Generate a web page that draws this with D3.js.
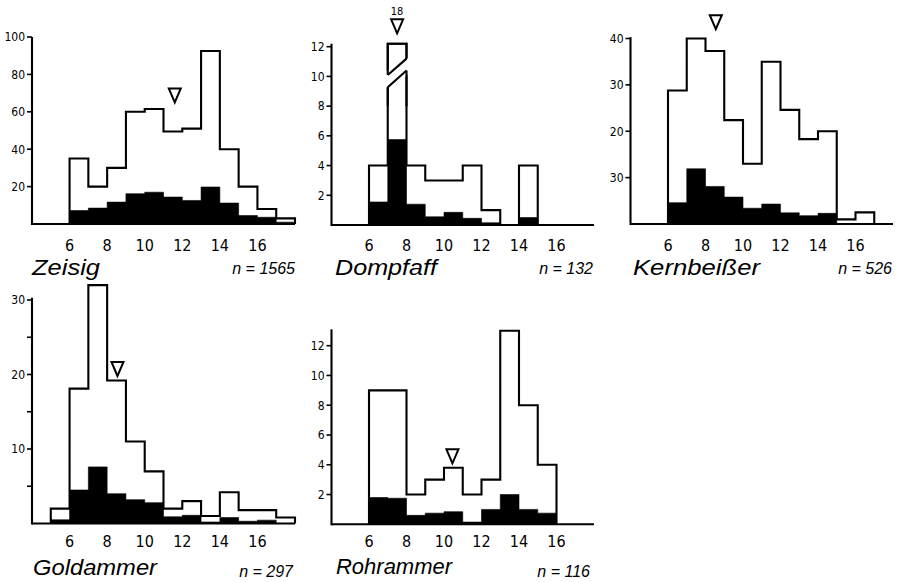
<!DOCTYPE html>
<html><head><meta charset="utf-8">
<script src="https://cdn.jsdelivr.net/npm/d3@7/dist/d3.min.js"></script>
<style>
html,body{margin:0;padding:0;background:#fff;}
svg{display:block;}
.tick-y{font-family:"DejaVu Sans Condensed","Liberation Sans Narrow","DejaVu Sans",sans-serif;font-size:12px;}
.tick-x{font-family:"DejaVu Sans Condensed","Liberation Sans Narrow","DejaVu Sans",sans-serif;font-size:16px;}
.title{font-family:"Liberation Sans","DejaVu Sans",sans-serif;font-style:italic;}
.nlab{font-family:"Liberation Sans","DejaVu Sans",sans-serif;font-style:italic;font-size:16px;}
</style></head>
<body>
<svg id="chart" width="900" height="582"></svg>
<script>
// ---- data ----
const binStarts = [5,6,7,8,9,10,11,12,13,14,15,16,17];
const xTickValues = [6,8,10,12,14,16];

const species = ["Zeisig","Dompfaff","Kernbeißer","Goldammer","Rohrammer"];
const nLabels = ["n = 1565","n = 132","n = 526","n = 297","n = 116"];

const zeisigTotal = [0,35,20,30,60,61.5,49.5,51,92.5,40,20,8,3];
const zeisigBlack = [0,7.2,8.5,11.7,16.2,17,14.4,12.6,19.8,11.2,4.5,3.6,1];
const dompfaffTotal = [0,4,18,4,3,3,4,1,0,4,0,0,0];
const dompfaffBlack = [0,1.55,5.75,1.4,0.55,0.85,0.45,0.15,0,0.5,0,0,0];
const kernTotal = [0,28.8,40,37.3,22.4,13,35,24.6,18.3,20,1,2.5,0];
const kernBlack = [0,4.6,11.9,8.1,5.8,3.4,4.3,2.4,1.8,2.3,0,0,0];
const goldTotal = [2,18.1,32,19.2,11,7,2,3,1,4.2,1.8,1.8,0.8];
const goldBlack = [0.5,4.5,7.6,4,3.2,2.8,0.9,1.1,0.2,0.8,0.3,0.45,0];
const rohrTotal = [0,9,9,2,3,3.8,2,3,13,8,4,0,0];
const rohrBlack = [0,1.8,1.75,0.6,0.75,0.85,0.15,1,2,1,0.75,0,0];

const meanValues = [11.6, 7.5, 8.55, 8.55, 10.45];
const markerTip = [65, 12.9, 42, 19.8, 4.1];

const zeisigYTicks = [20,40,60,80,100];
const zeisigYLabels = ["20","40","60","80","100"];
const dompfaffYTicks = [2,4,6,8,10,12];
const dompfaffYLabels = ["2","4","6","8","10","12"];
const kernYTicks = [10,20,30,40];
const kernYLabels = ["30","20","30","40"];
const goldYTicks = [5,10,15,20,25,30];
const goldYLabels = ["","10","","20","","30"];
const rohrYTicks = [2,4,6,8,10,12];
const rohrYLabels = ["2","4","6","8","10","12"];

const dompfaffBreakMark = "18";

// ---- layout ----
const panels = [
  {total:zeisigTotal, black:zeisigBlack, yTicks:zeisigYTicks, yLabels:zeisigYLabels,
   px0:32, px1:295, py0:224, yMax:100, pyMax:37, axisTop:100, titleX:32, titleY:275, titleW:68, titleSize:22, nX:295, nY:274, xLabY:251},
  {total:dompfaffTotal, black:dompfaffBlack, yTicks:dompfaffYTicks, yLabels:dompfaffYLabels,
   px0:331.5, px1:594, py0:225, yMax:12, pyMax:46.7, axisTop:12.2, titleX:335, titleY:275, titleW:102, titleSize:22, nX:593, nY:274, xLabY:251,
   cap:12.2, brk:{bin:7, upL:10.1, upR:11.2, loL:9.27, loR:10.4}},
  {total:kernTotal, black:kernBlack, yTicks:kernYTicks, yLabels:kernYLabels,
   px0:630.5, px1:893, py0:224, yMax:40, pyMax:38.5, axisTop:40.3, titleX:633, titleY:275, titleW:127, titleSize:22, nX:892, nY:274, xLabY:251},
  {total:goldTotal, black:goldBlack, yTicks:goldYTicks, yLabels:goldYLabels,
   px0:32, px1:295, py0:523.5, yMax:30, pyMax:300, axisTop:30.3, titleX:33, titleY:575, titleW:124, titleSize:22, nX:293, nY:577, xLabY:547},
  {total:rohrTotal, black:rohrBlack, yTicks:rohrYTicks, yLabels:rohrYLabels,
   px0:331.5, px1:594, py0:524.3, yMax:12, pyMax:345.7, axisTop:13.1, titleX:336, titleY:574, titleW:116, titleSize:22, nX:590, nY:577, xLabY:547}
];

const svg = d3.select("#chart");
const SW = 2.1;

panels.forEach((p, k) => {
  const g = svg.append("g");
  const x = d3.scaleLinear().domain([4,18]).range([p.px0, p.px1]);
  const y = d3.scaleLinear().domain([0,p.yMax]).range([p.py0, p.pyMax]);
  const cap = p.cap || Infinity;

  function stepPts(vals) {
    const pts = [];
    const first = vals.findIndex(v => v > 0);
    const last = vals.length - 1 - [...vals].reverse().findIndex(v => v > 0);
    pts.push([binStarts[first], 0]);
    for (let i = first; i <= last; i++) {
      const v = Math.min(vals[i], cap);
      pts.push([binStarts[i], v]);
      pts.push([binStarts[i] + 1, v]);
    }
    pts.push([binStarts[last] + 1, 0]);
    return pts;
  }
  const line = d3.line().x(d => x(d[0])).y(d => y(d[1]));

  // black filled area
  g.append("path").attr("d", line(stepPts(p.black)) + "Z")
    .attr("fill", "#000").attr("stroke", "#000").attr("stroke-width", 0.6);

  // outline
  g.append("path").attr("d", line(stepPts(p.total)))
    .attr("fill", "none").attr("stroke", "#000").attr("stroke-width", SW)
    .attr("stroke-linejoin", "miter");

  // axis break for the clipped bar
  if (p.brk) {
    const b = p.brk, e = 0.25;
    g.append("path")
      .attr("d", `M${x(b.bin - e)},${y(b.loL - 0.15)} L${x(b.bin + 1 + e)},${y(b.loR - 0.15)} L${x(b.bin + 1 + e)},${y(b.upR + 0.15)} L${x(b.bin - e)},${y(b.upL + 0.15)} Z`)
      .attr("fill", "#fff").attr("stroke", "none");
    g.append("line").attr("x1", x(b.bin)).attr("y1", y(b.upL)).attr("x2", x(b.bin + 1)).attr("y2", y(b.upR))
      .attr("stroke", "#000").attr("stroke-width", SW);
    g.append("line").attr("x1", x(b.bin)).attr("y1", y(b.loL)).attr("x2", x(b.bin + 1)).attr("y2", y(b.loR))
      .attr("stroke", "#000").attr("stroke-width", SW);
    g.append("path").attr("d", `M${x(b.bin)},${y(b.upL)} V${y(cap)} H${x(b.bin+1)} V${y(b.upR)}`)
      .attr("fill","none").attr("stroke","#000").attr("stroke-width",SW);
    g.append("path").attr("d", `M${x(b.bin)},${y(b.loL)} V${y(8)} M${x(b.bin+1)},${y(b.loR)} V${y(8)}`)
      .attr("fill","none").attr("stroke","#000").attr("stroke-width",SW);
  }

  // baseline and y axis
  g.append("line").attr("x1", x(4)).attr("x2", x(18)).attr("y1", y(0)).attr("y2", y(0))
    .attr("stroke", "#000").attr("stroke-width", SW);
  g.append("line").attr("x1", x(4)).attr("x2", x(4)).attr("y1", y(0) + 1).attr("y2", y(p.axisTop))
    .attr("stroke", "#000").attr("stroke-width", SW);

  // y ticks
  p.yTicks.forEach((t, i) => {
    g.append("line").attr("x1", x(4) - 5).attr("x2", x(4)).attr("y1", y(t)).attr("y2", y(t))
      .attr("stroke", "#000").attr("stroke-width", 1.6);
    if (p.yLabels[i]) {
      g.append("text").attr("class", "tick-y").attr("x", x(4) - 7).attr("y", y(t))
        .attr("dy", "0.36em").attr("text-anchor", "end").text(p.yLabels[i]);
    }
  });

  // x tick labels
  xTickValues.forEach(t => {
    g.append("text").attr("class", "tick-x").attr("x", x(t)).attr("y", p.xLabY)
      .attr("text-anchor", "middle").text(t);
  });

  // mean marker
  const mx = x(meanValues[k]), my = y(markerTip[k]);
  g.append("path").attr("d", `M${mx},${my} L${mx - 6},${my - 14} L${mx + 6},${my - 14} Z`)
    .attr("fill", "#fff").attr("stroke", "#000").attr("stroke-width", 2).attr("stroke-linejoin", "miter");
  if (k === 1) {
    g.append("text").attr("class", "tick-y").attr("x", mx).attr("y", my - 18)
      .attr("text-anchor", "middle").style("font-size", "11px").text(dompfaffBreakMark);
  }

  // titles
  g.append("text").attr("class", "title").attr("x", p.titleX).attr("y", p.titleY)
    .style("font-size", p.titleSize + "px")
    .attr("textLength", p.titleW).attr("lengthAdjust", "spacingAndGlyphs")
    .text(species[k]);
  g.append("text").attr("class", "nlab").attr("x", p.nX).attr("y", p.nY)
    .attr("text-anchor", "end").text(nLabels[k]);
});
</script>
</body></html>
